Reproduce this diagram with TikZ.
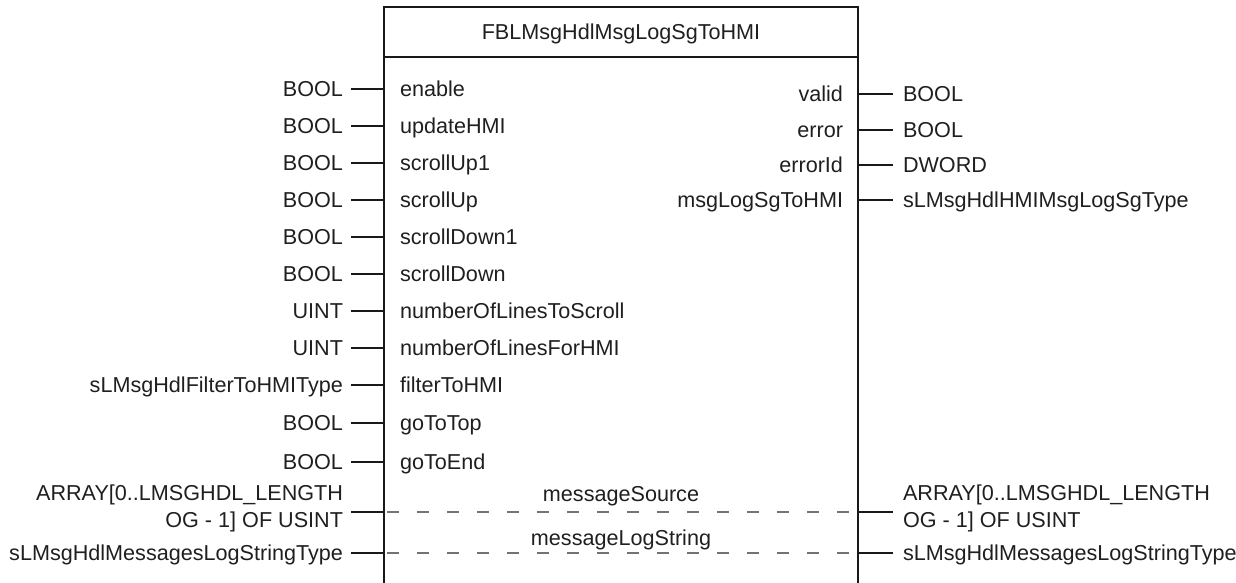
\documentclass[tikz,border=0pt]{standalone}
\usepackage{fontspec}
\setmainfont{Liberation Sans}
\begin{document}
\begin{tikzpicture}[x=0.5pt,y=-0.5pt,
  every node/.style={inner sep=0pt, outer sep=0pt, text=black!88,
    font=\fontsize{10.8}{13.5}\selectfont, text height=7.7pt, text depth=0pt},
  typeL/.style={anchor=east},
  typeR/.style={anchor=west},
  pinname/.style={anchor=west},
  outname/.style={anchor=east},
  pinline/.style={line width=1pt, black!90},
  boxline/.style={line width=1.1pt, black!90},
  inout/.style={line width=0.8pt, black!55, dash pattern=on 6pt off 9pt, dash phase=-1.5pt}]
\useasboundingbox (0,0) rectangle (1236,583);

% function block frame (open at the bottom) and header
\draw[boxline] (384,583) -- (384,7) -- (858,7) -- (858,583);
\draw[boxline] (384,57) -- (858,57);
\node (title) at (621,32) {FBLMsgHdlMsgLogSgToHMI};

% inputs: type, connector, pin name
\foreach \i/\y/\t/\n in {1/89/BOOL/enable, 2/126/BOOL/updateHMI, 3/163/BOOL/scrollUp1,
    4/200/BOOL/scrollUp, 5/237/BOOL/scrollDown1, 6/274/BOOL/scrollDown,
    7/311/UINT/numberOfLinesToScroll, 8/348/UINT/numberOfLinesForHMI,
    9/385/sLMsgHdlFilterToHMIType/filterToHMI, 10/423/BOOL/goToTop, 11/462/BOOL/goToEnd} {
  \node[typeL] (it\i) at (343,\y) {\t};
  \node[pinname] (in\i) at (400,\y) {\n};
  \coordinate (ia\i) at (351,\y);
  \coordinate (ib\i) at (384,\y);
  \draw[pinline] (ia\i) -- (ib\i);
}

% outputs: pin name, connector, type
\foreach \i/\y/\n/\t in {1/94/valid/BOOL, 2/130/error/BOOL, 3/165/errorId/DWORD,
    4/200/msgLogSgToHMI/sLMsgHdlHMIMsgLogSgType} {
  \node[outname] (on\i) at (843,\y) {\n};
  \node[typeR] (ot\i) at (903,\y) {\t};
  \coordinate (oa\i) at (858,\y);
  \coordinate (ob\i) at (893,\y);
  \draw[pinline] (oa\i) -- (ob\i);
}

% in-out variables passing through the block
\node[typeL] (xl1a) at (343,493) {ARRAY[0..LMSGHDL\_LENGTH};
\node[typeL] (xl1b) at (343,520) {OG - 1] OF USINT};
\node[typeR] (xr1a) at (903,493) {ARRAY[0..LMSGHDL\_LENGTH};
\node[typeR] (xr1b) at (903,520) {OG - 1] OF USINT};
\node (xn1) at (621,494) {messageSource};
\coordinate (xa1) at (351,512);
\coordinate (xb1) at (384,512);
\coordinate (xc1) at (858,512);
\coordinate (xd1) at (893,512);
\draw[inout] (xb1) -- (xc1);
\draw[pinline] (xa1) -- (xb1);
\draw[pinline] (xc1) -- (xd1);

\node[typeL] (xl2) at (343,553) {sLMsgHdlMessagesLogStringType};
\node[typeR] (xr2) at (903,553) {sLMsgHdlMessagesLogStringType};
\node (xn2) at (621,538) {messageLogString};
\coordinate (xa2) at (351,553);
\coordinate (xb2) at (384,553);
\coordinate (xc2) at (858,553);
\coordinate (xd2) at (893,553);
\draw[inout] (xb2) -- (xc2);
\draw[pinline] (xa2) -- (xb2);
\draw[pinline] (xc2) -- (xd2);
\end{tikzpicture}
\end{document}
